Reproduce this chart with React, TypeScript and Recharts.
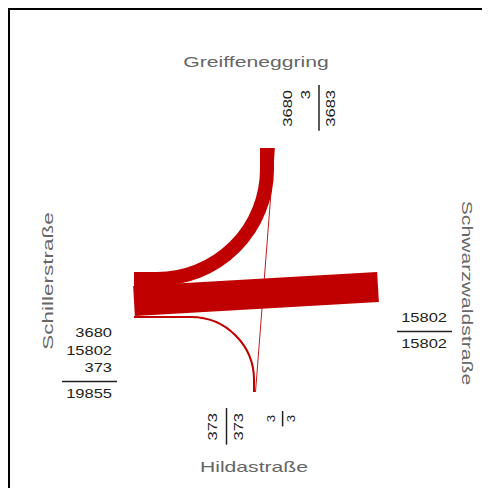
import { LineChart, Line, XAxis, YAxis, Customized } from "recharts";

// streets (arms of the junction)
const arms = ["Greiffeneggring", "Schwarzwaldstraße", "Hildastraße", "Schillerstraße"];

// traffic flows through the junction
const flowFrom = ["Schillerstraße", "Schillerstraße", "Schillerstraße", "Greiffeneggring"];
const flowTo = ["Greiffeneggring", "Schwarzwaldstraße", "Hildastraße", "Hildastraße"];
const flowValues = [3680, 15802, 373, 3];

// counts printed next to each arm (total is summed)
const schillerCounts = [3680, 15802, 373];
const greiffeneggCounts = [3680, 3];
const schwarzwaldCounts = [15802];
const hildaCountsWest = [373];
const hildaCountsEast = [3];

const RED = "#c00000";
const FONT = "'Liberation Sans', Arial, sans-serif";
const REACH = 122;
const CORNER = 0.84; // corner radius as share of the shorter leg

// where each arm starts stacking its bands (data units, centre = 0,0)
const armGeo: Record<string, { side: string; start: number }> = {
  Schillerstraße: { side: "W", start: -2 },
  Schwarzwaldstraße: { side: "E", start: -2 },
  Greiffeneggring: { side: "N", start: 4 },
  Hildastraße: { side: "S", start: -3 },
};

const bandWidth = (v: number) => 0.241 * Math.sqrt(Math.max(v - 300, 0));
const strokeFor = (w: number) => Math.max(w, 0.9);

// 2 points -> straight, 3 points -> rounded corner at the middle point
const cornerCurve = (ratio: number) => (context: any) => {
  let pts: number[][] = [];
  return {
    areaStart() {},
    areaEnd() {},
    lineStart() {
      pts = [];
    },
    point(x: number, y: number) {
      pts.push([+x, +y]);
    },
    lineEnd() {
      if (!pts.length) return;
      context.moveTo(pts[0][0], pts[0][1]);
      if (pts.length === 3) {
        const [a, c, b] = pts;
        const leg = Math.min(Math.hypot(a[0] - c[0], a[1] - c[1]), Math.hypot(b[0] - c[0], b[1] - c[1]));
        context.arcTo(c[0], c[1], b[0], b[1], leg * ratio);
        context.lineTo(b[0], b[1]);
      } else pts.slice(1).forEach((p) => context.lineTo(p[0], p[1]));
    },
  };
};

// lane position of every flow at both of its arms
const cum: Record<string, number> = {};
arms.forEach((a) => (cum[a] = 0));

const armPoint = (arm: string, w: number) => {
  const g = armGeo[arm];
  const off = cum[arm] + w / 2;
  cum[arm] += w;
  if (g.side === "W") return { x: -REACH, y: g.start - off, horiz: true };
  if (g.side === "E") return { x: REACH, y: g.start - off, horiz: true };
  if (g.side === "N") return { x: g.start + off, y: REACH, horiz: false };
  return { x: g.start + off, y: -REACH, horiz: false };
};

const flows = flowValues.map((v, i) => {
  const w = strokeFor(bandWidth(v));
  const a = armPoint(flowFrom[i], w);
  const b = armPoint(flowTo[i], w);
  const pts = [{ x: a.x, y: a.y }];
  if (a.horiz !== b.horiz) {
    pts.push(a.horiz ? { x: b.x, y: a.y } : { x: a.x, y: b.y });
  }
  pts.push({ x: b.x, y: b.y });
  return { key: flowFrom[i] + "-" + flowTo[i], w, pts };
});

const sum = (a: number[]) => a.reduce((s, v) => s + v, 0);

const Stack = ({ x, y, rotate = 0, values, s = 1 }: any) => {
  const step = 17.5 * s;
  const ruleY = (values.length - 1) * step + 9.5 * s;
  const total = sum(values);
  const maxLen = Math.max(...[...values, total].map((v: number) => String(v).length)) * 9.2 * s;
  const txt = (v: number, ty: number, k: string) => (
    <text
      key={k}
      transform={`translate(0,${ty}) scale(1.32,1)`}
      textAnchor="end"
      fontSize={12.5 * s}
      fontFamily={FONT}
      fill="#222"
    >
      {v}
    </text>
  );
  return (
    <g transform={`translate(${x},${y}) rotate(${rotate})`}>
      {values.map((v: number, i: number) => txt(v, i * step, "v" + i))}
      <line x1={-(maxLen + 4)} x2={5 * s} y1={ruleY} y2={ruleY} stroke="#222" strokeWidth={1.5} />
      {txt(total, ruleY + 16 * s, "t")}
    </g>
  );
};

const Title = ({ x, y, rotate = 0, stretch = 1.41, children }: any) => (
  <text
    transform={`translate(${x},${y}) rotate(${rotate}) scale(${stretch},1)`}
    textAnchor="middle"
    fontSize={15}
    fontFamily={FONT}
    fill="#666"
  >
    {children}
  </text>
);

const Labels = () => (
  <g>
    <Title x={246} y={57}>{arms[0]}</Title>
    <Title x={452} y={283} rotate={90}>{arms[1]}</Title>
    <Title x={244} y={462}>{arms[2]}</Title>
    <Title x={43} y={271} rotate={-90} stretch={1.5}>{arms[3]}</Title>
    <Stack x={102} y={327} values={schillerCounts} />
    <Stack x={282} y={80} rotate={-90} values={greiffeneggCounts} />
    <Stack x={437} y={312} values={schwarzwaldCounts} />
    <Stack x={207} y={403} rotate={-90} values={hildaCountsWest} />
    <Stack x={265} y={405} rotate={-90} values={hildaCountsEast} s={0.8} />
  </g>
);

export default function App() {
  return (
    <div
      style={{
        width: 474,
        height: 480,
        boxSizing: "border-box",
        borderTop: "2px solid #000",
        borderLeft: "2px solid #000",
      }}
    >
      <LineChart width={472} height={478} margin={{ top: 0, right: 0, bottom: 0, left: 0 }}>
        <XAxis type="number" dataKey="x" domain={[-246, 226]} hide allowDataOverflow />
        <YAxis type="number" dataKey="y" domain={[-218, 260]} hide allowDataOverflow />
        {flows.map((f) => (
          <Line
            key={f.key}
            data={f.pts}
            dataKey="y"
            type={cornerCurve(CORNER) as any}
            stroke={RED}
            strokeWidth={f.w}
            dot={false}
            activeDot={false}
            isAnimationActive={false}
          />
        ))}
        <Customized component={<Labels />} />
      </LineChart>
    </div>
  );
}
